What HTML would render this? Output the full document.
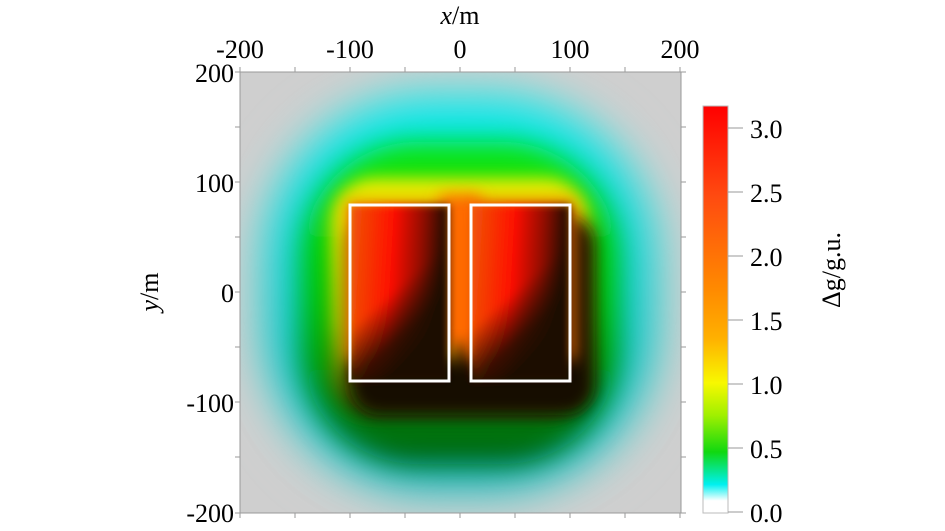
<!DOCTYPE html>
<html><head><style>
html,body{margin:0;padding:0;background:#fff;}
svg{display:block;font-family:"Liberation Serif",serif;}
</style></head><body>
<svg width="945" height="531" viewBox="0 0 945 531" xmlns="http://www.w3.org/2000/svg">
<defs>
<clipPath id="pc"><rect x="240" y="72" width="441" height="441"/></clipPath>
<filter id="b25" x="-50%" y="-50%" width="200%" height="200%"><feGaussianBlur stdDeviation="22"/></filter>
<filter id="b14" x="-50%" y="-50%" width="200%" height="200%"><feGaussianBlur stdDeviation="13"/></filter>
<filter id="b8" x="-50%" y="-50%" width="200%" height="200%"><feGaussianBlur stdDeviation="8"/></filter>
<filter id="b5" x="-50%" y="-50%" width="200%" height="200%"><feGaussianBlur stdDeviation="4"/></filter>
<linearGradient id="cy" x1="0" y1="0" x2="0" y2="1">
<stop offset="0" stop-color="#00ecec"/><stop offset="1" stop-color="#00a8a8"/></linearGradient>
<linearGradient id="gr" x1="0" y1="0" x2="0" y2="1">
<stop offset="0" stop-color="#10e810"/><stop offset="0.5" stop-color="#00c000"/><stop offset="1" stop-color="#006010"/></linearGradient>
<linearGradient id="ye" x1="0" y1="0" x2="0" y2="1">
<stop offset="0" stop-color="#f0f000"/><stop offset="0.6" stop-color="#a0c000"/><stop offset="1" stop-color="#204000"/></linearGradient>
<linearGradient id="rd" x1="0" y1="0.45" x2="1" y2="0.55">
<stop offset="0" stop-color="#f05008"/><stop offset="0.4" stop-color="#ff1000"/><stop offset="0.7" stop-color="#900800"/><stop offset="0.9" stop-color="#2a0800"/><stop offset="1" stop-color="#1a0d00"/></linearGradient>
<linearGradient id="bt" x1="0.3" y1="0.55" x2="0.5" y2="0.95">
<stop offset="0" stop-color="#1a0d00" stop-opacity="0"/><stop offset="0.6" stop-color="#1a0d00" stop-opacity="0.85"/><stop offset="1" stop-color="#1a0d00"/></linearGradient>
<linearGradient id="cb" x1="0" y1="0" x2="0" y2="1">
<stop offset="0" stop-color="#ff0000"/>
<stop offset="0.22" stop-color="#ff4a10"/>
<stop offset="0.45" stop-color="#ff8a00"/>
<stop offset="0.57" stop-color="#ffb000"/>
<stop offset="0.68" stop-color="#f8f800"/>
<stop offset="0.76" stop-color="#a0f000"/>
<stop offset="0.85" stop-color="#10d810"/>
<stop offset="0.93" stop-color="#00f0f0"/>
<stop offset="0.97" stop-color="#ffffff"/>
<stop offset="1" stop-color="#ffffff"/>
</linearGradient>
</defs>
<g clip-path="url(#pc)">
<rect x="240" y="72" width="441" height="441" fill="#cfcfcf"/>
<rect x="250" y="85" width="420" height="420" rx="180" fill="#a8d8d8" filter="url(#b25)"/>
<rect x="270" y="100" width="380" height="385" rx="160" fill="url(#cy)" filter="url(#b25)"/>
<rect x="302" y="142" width="316" height="322" rx="115" fill="url(#gr)" filter="url(#b14)"/>
<rect x="330" y="178" width="260" height="240" rx="45" fill="url(#ye)" filter="url(#b8)"/>
<rect x="350" y="215" width="245" height="200" rx="30" fill="#140c00" filter="url(#b8)"/>
<rect x="345" y="200" width="110" height="160" fill="#f0a000" filter="url(#b8)"/>
<rect x="465" y="200" width="110" height="160" fill="#f07000" filter="url(#b8)"/>
<rect x="440" y="195" width="40" height="150" fill="#ff6a00" filter="url(#b8)"/>
<g filter="url(#b5)">
<rect x="350" y="205" width="99" height="176" fill="url(#rd)"/>
<rect x="350" y="205" width="99" height="176" fill="url(#bt)"/>
<rect x="471" y="205" width="99" height="176" fill="url(#rd)"/>
<rect x="471" y="205" width="99" height="176" fill="url(#bt)"/>
</g>
</g>
<rect x="240" y="72" width="441" height="441" fill="none" stroke="#9a9a9a" stroke-width="1"/>
<g stroke="#9a9a9a" stroke-width="1">
<path d="M240 513v5M295 513v5M350 513v5M405 513v5M460 513v5M515 513v5M570 513v5M625 513v5M680 513v5"/>
<path d="M240 72v-5M295 72v-5M350 72v-5M405 72v-5M460 72v-5M515 72v-5M570 72v-5M625 72v-5M680 72v-5"/>
<path d="M235 72h5M235 127h5M235 182h5M235 237h5M235 292h5M235 347h5M235 402h5M235 457h5M235 513h5"/>
<path d="M681 72h5M681 127h5M681 182h5M681 237h5M681 292h5M681 347h5M681 402h5M681 457h5M681 513h5"/>
</g>
<rect x="350" y="205" width="99" height="176" fill="none" stroke="#fff" stroke-width="3"/>
<rect x="471" y="205" width="99" height="176" fill="none" stroke="#fff" stroke-width="3"/>
<g font-size="26" fill="#000" text-anchor="middle">
<text x="240" y="58">-200</text><text x="350" y="58">-100</text><text x="460" y="58">0</text>
<text x="570" y="58">100</text><text x="680" y="58">200</text>
<text x="460" y="24"><tspan font-style="italic">x</tspan>/m</text>
</g>
<g font-size="26" fill="#000" text-anchor="end">
<text x="234" y="82">200</text><text x="234" y="192">100</text><text x="234" y="302">0</text>
<text x="234" y="412">-100</text><text x="234" y="522">-200</text>
</g>
<text transform="translate(158,292) rotate(-90)" font-size="26" text-anchor="middle"><tspan font-style="italic">y</tspan>/m</text>
<rect x="703" y="106" width="25" height="407" fill="url(#cb)" stroke="#bbb" stroke-width="1"/>
<g stroke="#999" stroke-width="1">
<path d="M728 128h15M728 192h15M728 256h15M728 320h15M728 384h15M728 448h15M728 512h15"/>
</g>
<g font-size="26" fill="#000">
<text x="750" y="138">3.0</text><text x="750" y="202">2.5</text><text x="750" y="266">2.0</text>
<text x="750" y="330">1.5</text><text x="750" y="394">1.0</text><text x="750" y="458">0.5</text>
<text x="750" y="522">0.0</text>
</g>
<text transform="translate(840,270) rotate(-90)" font-size="26" text-anchor="middle">Δg/g.u.</text>
</svg>
</body></html>
